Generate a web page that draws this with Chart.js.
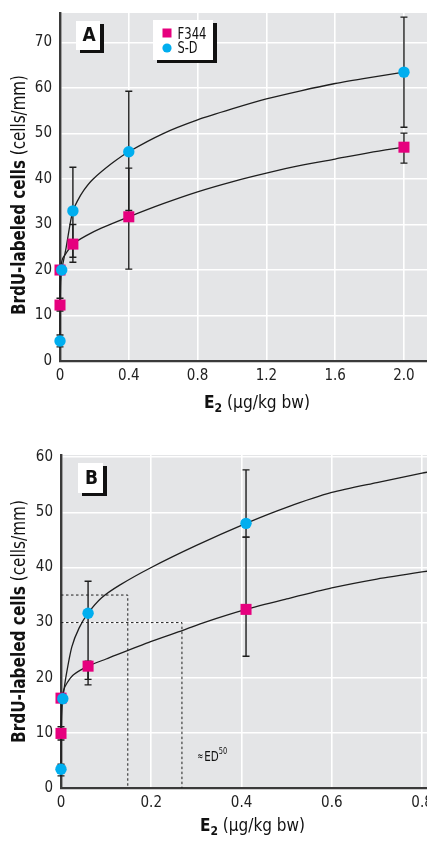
<!DOCTYPE html>
<html>
<head>
<meta charset="utf-8">
<script src="https://cdn.jsdelivr.net/npm/chart.js@4/dist/chart.umd.min.js"></script>
<style>
  html, body { margin: 0; padding: 0; background: #fff; }
  .panel { position: absolute; left: 0; width: 427px; }
  #panelA { top: 0; height: 420px; }
  #panelB { top: 420px; height: 424px; }
</style>
</head>
<body>
<div class="panel" id="panelA"><canvas id="chartA"></canvas></div>
<div class="panel" id="panelB"><canvas id="chartB"></canvas></div>
<script>
  const FONT = "'Liberation Sans Narrow', 'DejaVu Sans Condensed', 'Roboto Condensed', 'Liberation Sans', Arial, sans-serif";
  const PINK = "#e6007e";
  const BLUE = "#00aeef";
  const INK = "#1e1e1e";

  // ---- panel A ----
  const xTicksA = [0, 0.4, 0.8, 1.2, 1.6, 2.0];
  const xLabelsA = ["0", "0.4", "0.8", "1.2", "1.6", "2.0"];
  const yTicksA = [0, 10, 20, 30, 40, 50, 60, 70];

  const doseA_F344 = [0, 0, 0.075, 0.4, 2.0];
  const cellsA_F344 = [12.3, 20, 25.7, 31.7, 47];
  const lowA_F344 = [11.0, 19.5, 21.7, 20.2, 43.5];
  const highA_F344 = [13.8, 20.5, 30, 42.4, 50.1];

  const doseA_SD = [0, 0.01, 0.075, 0.4, 2.0];
  const cellsA_SD = [4.4, 20, 33, 46, 63.5];
  const lowA_SD = [3.1, 19.5, 22.8, 33.1, 51.4];
  const highA_SD = [5.7, 20.5, 42.6, 59.3, 75.6];

  // fitted curves
  const fitA_SD_x = [0, 0.001, 0.004, 0.01, 0.036, 0.059, 0.075, 0.1, 0.14, 0.19, 0.3, 0.4, 0.6, 0.8, 1.0, 1.2, 1.4, 1.6, 1.8, 2.0];
  const fitA_SD_y = [4.4, 12, 17.5, 20, 25, 30.2, 33, 35.1, 37.6, 39.9, 43.4, 46, 50, 53, 55.4, 57.6, 59.4, 61, 62.3, 63.5];
  const fitA_F344_x = [0, 0.001, 0.003, 0.015, 0.036, 0.075, 0.15, 0.24, 0.4, 0.6, 0.8, 1.0, 1.2, 1.4, 1.6, 1.8, 2.0];
  const fitA_F344_y = [12.3, 17.5, 20, 22.5, 23.7, 25.7, 27.5, 29.2, 31.7, 34.6, 37.2, 39.4, 41.3, 43, 44.4, 45.8, 47];

  // ---- panel B ----
  const xTicksB = [0, 0.2, 0.4, 0.6, 0.8];
  const xLabelsB = ["0", "0.2", "0.4", "0.6", "0.8"];
  const yTicksB = [0, 10, 20, 30, 40, 50, 60];

  const doseB_F344 = [0, 0, 0.06, 0.41];
  const cellsB_F344 = [9.9, 16.3, 22.1, 32.4];
  const lowB_F344 = [8.7, 15.8, 18.7, 23.9];
  const highB_F344 = [11.1, 16.8, 23, 45.5];

  const doseB_SD = [0, 0.004, 0.06, 0.41];
  const cellsB_SD = [3.4, 16.2, 31.7, 48];
  const lowB_SD = [2.2, 15.7, 19.7, 45.5];
  const highB_SD = [4.3, 16.7, 37.5, 57.7];

  const fitB_SD_x = [0, 0.0005, 0.002, 0.004, 0.011, 0.024, 0.04, 0.06, 0.09, 0.13, 0.2, 0.3, 0.41, 0.5, 0.6, 0.7, 0.8, 0.82];
  const fitB_SD_y = [3.4, 10, 14.5, 16.2, 20.2, 25.6, 29, 31.7, 34.5, 36.8, 40, 44, 48, 50.9, 53.6, 55.4, 57.1, 57.4];
  const fitB_F344_x = [0, 0.001, 0.002, 0.006, 0.013, 0.027, 0.06, 0.1, 0.2, 0.27, 0.32, 0.41, 0.5, 0.6, 0.7, 0.8, 0.82];
  const fitB_F344_y = [9.9, 14, 16.3, 17.8, 19, 20.5, 22.1, 23.4, 26.6, 28.6, 30.1, 32.4, 34.3, 36.3, 37.9, 39.2, 39.4];

  // ED50 guide lines (dotted)
  const ed50High_x = [0, 0.148, 0.148];
  const ed50High_y = [35, 35, 0];
  const ed50Low_x = [0, 0.268, 0.268];
  const ed50Low_y = [30, 30, 0];

  function pts(xs, ys) {
    return xs.map((x, i) => ({ x: x, y: ys[i] }));
  }

  // draw several text runs, squeezed/stretched to a target width
  function drawParts(ctx, parts, x, y, width) {
    let total = 0;
    parts.forEach(p => { ctx.font = p[1]; total += ctx.measureText(p[0]).width; });
    const k = width / total;
    ctx.save();
    ctx.translate(x, y);
    ctx.scale(k, 1);
    ctx.textAlign = "left";
    ctx.textBaseline = "alphabetic";
    let cx = 0;
    parts.forEach(p => {
      ctx.font = p[1];
      ctx.fillText(p[0], cx, p[2] || 0);
      cx += ctx.measureText(p[0]).width;
    });
    ctx.restore();
  }

  function shadowBox(ctx, x, y, w, h, dx, dy) {
    ctx.fillStyle = "#111";
    ctx.fillRect(x + dx, y + dy, w, h);
    ctx.fillStyle = "#fff";
    ctx.fillRect(x, y, w, h);
  }

  function makePlugin(cfg) {
    return {
      id: "panel" + cfg.letter,
      beforeDraw(chart) {
        const a = chart.chartArea, ctx = chart.ctx;
        ctx.save();
        ctx.fillStyle = "#e4e5e7";
        ctx.fillRect(a.left, a.top, a.right - a.left, a.bottom - a.top);
        ctx.restore();
      },
      beforeDatasetsDraw(chart) {
        const ctx = chart.ctx, xs = chart.scales.x, ys = chart.scales.y;
        ctx.save();
        ctx.strokeStyle = INK;
        ctx.lineWidth = 1.4;
        cfg.errors.forEach(e => {
          e.x.forEach((xv, i) => {
            const px = xs.getPixelForValue(xv);
            const lo = ys.getPixelForValue(e.low[i]);
            const hi = ys.getPixelForValue(e.high[i]);
            ctx.beginPath();
            ctx.moveTo(px, lo); ctx.lineTo(px, hi);
            ctx.moveTo(px - 3.5, lo); ctx.lineTo(px + 3.5, lo);
            ctx.moveTo(px - 3.5, hi); ctx.lineTo(px + 3.5, hi);
            ctx.stroke();
          });
        });
        ctx.restore();
      },
      afterDraw(chart) {
        const ctx = chart.ctx;
        ctx.save();
        ctx.fillStyle = "#111";
        // y title
        ctx.save();
        ctx.translate(25, cfg.yTitleStart);
        ctx.rotate(-Math.PI / 2);
        ctx.fillStyle = "#111";
        drawParts(ctx, [["BrdU-labeled cells", "bold 20px " + FONT], [" (cells/mm)", "20px " + FONT]], 0, 0, cfg.yTitleWidth);
        ctx.restore();
        // x title
        ctx.fillStyle = "#111";
        drawParts(ctx, [["E", "bold 17px " + FONT], ["2", "bold 12px " + FONT, 4], [" (\u03bcg/kg bw)", "17px " + FONT]],
          cfg.xTitle[0], cfg.xTitle[1], cfg.xTitle[2]);
        // panel letter
        const b = cfg.box;
        shadowBox(ctx, b[0], b[1], b[2], b[3], 4, 3);
        ctx.fillStyle = "#111";
        ctx.font = "bold 19px " + FONT;
        ctx.textAlign = "center";
        ctx.textBaseline = "middle";
        ctx.fillText(cfg.letter, b[0] + b[2] / 2 + 1, b[1] + b[3] / 2 + 1);
        // legend
        if (cfg.legend) {
          shadowBox(ctx, 153, 20, 60, 40, 4, 3);
          ctx.fillStyle = PINK;
          ctx.fillRect(162.5, 28.5, 9, 9);
          ctx.fillStyle = BLUE;
          ctx.beginPath();
          ctx.arc(167, 48, 4.6, 0, Math.PI * 2);
          ctx.fill();
          ctx.fillStyle = "#111";
          drawParts(ctx, [["F344", "15px " + FONT]], 177.5, 38.5, 29);
          drawParts(ctx, [["S-D", "15px " + FONT]], 177.5, 52.5, 20);
        }
        // ED50 note
        if (cfg.ed50) {
          const px = chart.scales.x.getPixelForValue(cfg.ed50[0]);
          const py = chart.scales.y.getPixelForValue(cfg.ed50[1]);
          ctx.fillStyle = "#111";
          drawParts(ctx, [["\u2248", "12px " + FONT]], px, py - 1, 6);
          drawParts(ctx, [["ED", "14px " + FONT], ["50", "9px " + FONT, -7]], px + 7, py, 23);
        }
        ctx.restore();
      }
    };
  }

  function makeChart(id, c) {
    const datasets = [
      {
        type: "scatter", label: "S-D", data: pts(c.sdX, c.sdY), order: 0,
        pointStyle: "circle", pointRadius: 5.7, pointHoverRadius: 5.7,
        backgroundColor: BLUE, borderWidth: 0, clip: false
      },
      {
        type: "scatter", label: "F344", data: pts(c.fX, c.fY), order: 1,
        pointStyle: "rect", pointRadius: 7.8, pointHoverRadius: 7.8,
        backgroundColor: PINK, borderWidth: 0, clip: false
      },
      {
        type: "line", label: "S-D fit", data: pts(c.fitSdX, c.fitSdY), order: 2,
        borderColor: INK, borderWidth: 1.3, pointRadius: 0, tension: 0.25, fill: false, clip: false
      },
      {
        type: "line", label: "F344 fit", data: pts(c.fitFX, c.fitFY), order: 2,
        borderColor: INK, borderWidth: 1.3, pointRadius: 0, tension: 0.25, fill: false, clip: false
      }
    ];
    (c.guides || []).forEach(g => {
      datasets.push({
        type: "line", label: "guide", data: pts(g[0], g[1]), order: 3,
        borderColor: INK, borderWidth: 1, borderDash: [2.5, 2.5], pointRadius: 0, tension: 0, fill: false
      });
    });

    const ctx = document.getElementById(id).getContext("2d");
    return new Chart(ctx, {
      data: { datasets: datasets },
      options: {
        responsive: true,
        maintainAspectRatio: false,
        animation: false,
        events: [],
        layout: { autoPadding: false, padding: { top: c.top, right: 0, left: 0, bottom: 0 } },
        plugins: { legend: { display: false }, tooltip: { enabled: false } },
        scales: {
          x: {
            type: "linear", min: 0, max: c.xMax,
            afterBuildTicks: s => { s.ticks = c.xTicks.map(v => ({ value: v })); },
            afterFit: s => { s.height = c.xAxisH; s.paddingLeft = 0; s.paddingRight = 0; },
            grid: { color: "#ffffff", lineWidth: 1.6, drawTicks: false },
            border: { color: "#3a3a3a", width: 2.2 },
            ticks: {
              padding: 6, color: "#222", maxRotation: 0,
              font: { family: FONT, size: 15 },
              callback: (v, i) => c.xLabels[i]
            }
          },
          y: {
            type: "linear", min: 0, max: c.yMax,
            afterBuildTicks: s => { s.ticks = c.yTicks.map(v => ({ value: v })); },
            afterFit: s => { s.width = c.yAxisW; s.paddingTop = 0; s.paddingBottom = 0; },
            grid: { color: "#ffffff", lineWidth: 1.6, drawTicks: false },
            border: { color: "#3a3a3a", width: 2.4 },
            ticks: {
              padding: 8, color: "#222",
              font: { family: FONT, size: 15 },
              callback: v => String(v)
            }
          }
        }
      },
      plugins: [makePlugin(c.panel)]
    });
  }

  makeChart("chartA", {
    top: 13, xAxisH: 59, yAxisW: 60, xMax: 2.134, yMax: 76.5,
    xTicks: xTicksA, xLabels: xLabelsA, yTicks: yTicksA,
    sdX: doseA_SD, sdY: cellsA_SD, fX: doseA_F344, fY: cellsA_F344,
    fitSdX: fitA_SD_x, fitSdY: fitA_SD_y, fitFX: fitA_F344_x, fitFY: fitA_F344_y,
    panel: {
      letter: "A", box: [76, 21, 24, 29], legend: true,
      yTitleStart: 315, yTitleWidth: 240, xTitle: [204, 408, 106],
      errors: [
        { x: doseA_F344, low: lowA_F344, high: highA_F344 },
        { x: doseA_SD, low: lowA_SD, high: highA_SD }
      ]
    }
  });

  makeChart("chartB", {
    top: 35, xAxisH: 56, yAxisW: 61, xMax: 0.811, yMax: 60.4,
    xTicks: xTicksB, xLabels: xLabelsB, yTicks: yTicksB,
    sdX: doseB_SD, sdY: cellsB_SD, fX: doseB_F344, fY: cellsB_F344,
    fitSdX: fitB_SD_x, fitSdY: fitB_SD_y, fitFX: fitB_F344_x, fitFY: fitB_F344_y,
    guides: [[ed50High_x, ed50High_y], [ed50Low_x, ed50Low_y]],
    panel: {
      letter: "B", box: [78, 43, 25, 30], legend: false,
      yTitleStart: 323, yTitleWidth: 243, xTitle: [200, 411, 105],
      ed50: [0.302, 4.9],
      errors: [
        { x: doseB_F344, low: lowB_F344, high: highB_F344 },
        { x: doseB_SD, low: lowB_SD, high: highB_SD }
      ]
    }
  });
</script>
</body>
</html>
